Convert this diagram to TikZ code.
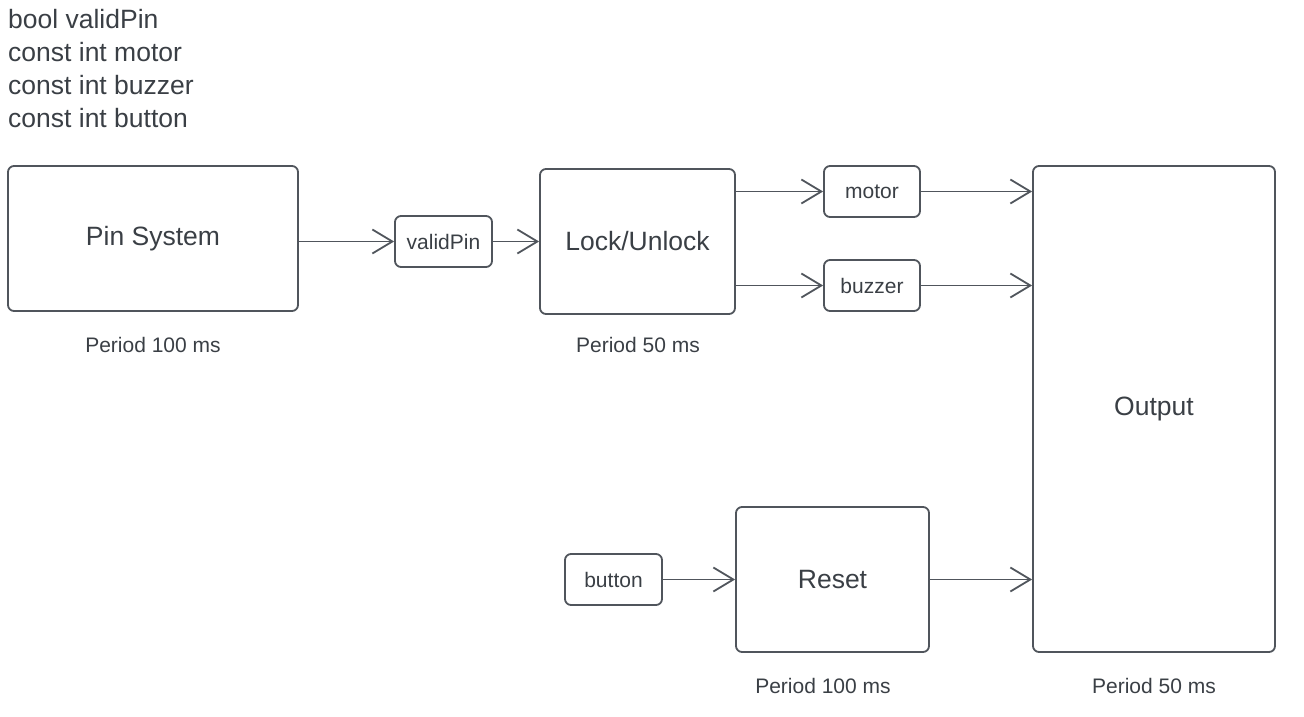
\documentclass[tikz,border=0pt]{standalone}
\usepackage{fontspec}
\setmainfont{Liberation Sans}
\usetikzlibrary{arrows.meta}
\definecolor{txt}{HTML}{3A3F45}
\definecolor{ln}{HTML}{50555C}
\begin{document}
\begin{tikzpicture}[x=1pt,y=-1pt,
  box/.style={draw=ln,line width=1.8pt,rounded corners=6pt,text=txt,inner sep=0pt},
  big/.style={font=\fontsize{26.5}{32}\selectfont},
  small/.style={font=\fontsize{21}{26}\selectfont},
  lbl/.style={text=txt,inner sep=0pt,small},
  var/.style={text=txt,inner sep=0pt,anchor=base west,big},
  arr/.style={draw=ln,line width=1.8pt,-{Straight Barb[length=20pt,width=24pt,line width=1.8pt]}}]
\useasboundingbox (0,0) rectangle (1304,717);
\node[var] (v1) at (8,29) {bool validPin};
\node[var] (v2) at (8,62) {const int motor};
\node[var] (v3) at (8,95) {const int buzzer};
\node[var] (v4) at (8,127) {const int button};

\node[box,big,minimum width=290pt,minimum height=145pt] (pin) at (153,238.5) {Pin System};
\node[box,small,minimum width=97pt,minimum height=51pt] (valid) at (443.5,241.5) {validPin};
\node[box,big,minimum width=195pt,minimum height=145pt] (lock) at (637.5,241.5) {Lock/Unlock};
\node[box,small,minimum width=96pt,minimum height=51pt] (motor) at (872,191.5) {motor};
\node[box,small,minimum width=96pt,minimum height=51pt] (buzzer) at (872,285.5) {buzzer};
\node[box,big,minimum width=242pt,minimum height=486pt] (output) at (1154,409) {Output};
\node[box,big,minimum width=193pt,minimum height=145pt] (reset) at (832.5,579.5) {Reset};
\node[box,small,minimum width=97pt,minimum height=51pt] (button) at (613.5,579.5) {button};

\node[lbl] (p1) at (153,345) {Period 100 ms};
\node[lbl] (p2) at (638,345) {Period 50 ms};
\node[lbl] (p3) at (823,686) {Period 100 ms};
\node[lbl] (p4) at (1154,686) {Period 50 ms};

\draw[arr] (pin.east |- valid.west) -- (valid.west);
\draw[arr] (valid.east) -- (lock.west |- valid.east);
\draw[arr] (lock.east |- motor.west) -- (motor.west);
\draw[arr] (lock.east |- buzzer.west) -- (buzzer.west);
\draw[arr] (motor.east) -- (output.west |- motor.east);
\draw[arr] (buzzer.east) -- (output.west |- buzzer.east);
\draw[arr] (button.east) -- (reset.west |- button.east);
\draw[arr] (reset.east) -- (output.west |- reset.east);
\end{tikzpicture}
\end{document}
